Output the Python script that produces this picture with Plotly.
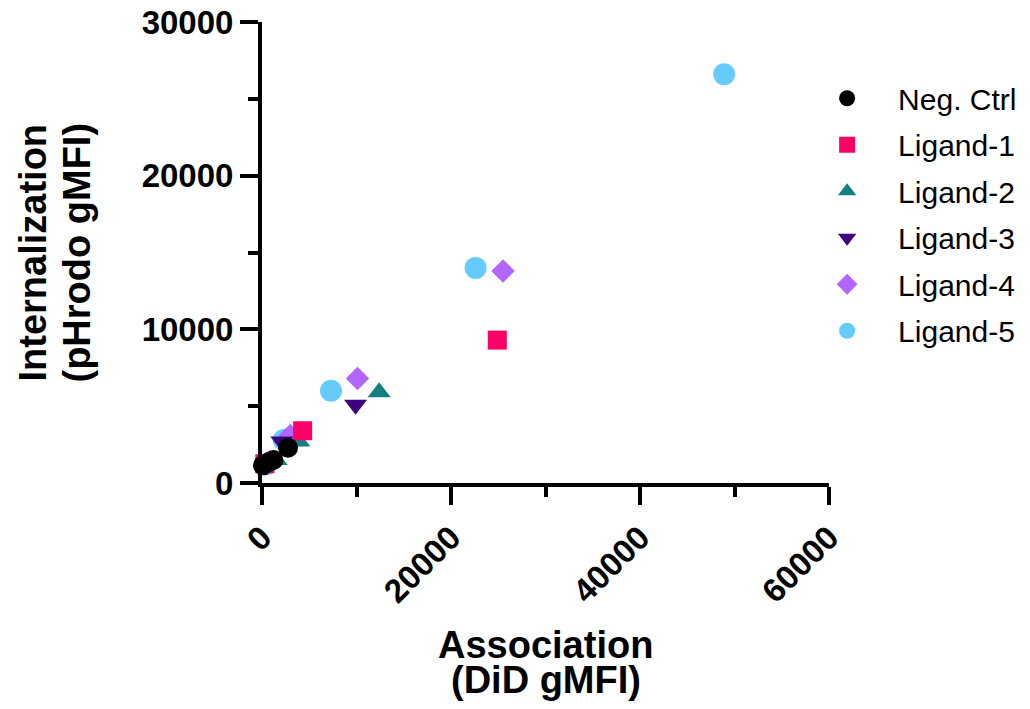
import plotly.graph_objects as go

series_names = ["Neg. Ctrl", "Ligand-1", "Ligand-2", "Ligand-3", "Ligand-4", "Ligand-5"]
neg_x = [100, 700, 1200, 2750]
neg_y = [1150, 1350, 1500, 2300]
l1_x = [300, 4300, 24900]
l1_y = [1250, 3400, 9300]
l2_x = [1500, 3900, 12400]
l2_y = [1500, 2700, 5900]
l3_x = [600, 2100, 9900]
l3_y = [1300, 2700, 5100]
l4_x = [500, 3000, 10100, 25500]
l4_y = [1300, 3100, 6800, 13800]
l5_x = [400, 2300, 7300, 22600, 48900]
l5_y = [1200, 2800, 6000, 14000, 26600]

x_title_lines = ["Association", "(DiD gMFI)"]
y_title_lines = ["Internalization", "(pHrodo gMFI)"]

xs = [neg_x, l1_x, l2_x, l3_x, l4_x, l5_x]
ys = [neg_y, l1_y, l2_y, l3_y, l4_y, l5_y]
colors = ["#000000", "#FF0066", "#147F7F", "#3F0080", "#B266FF", "#66CCFF"]
symbols = ["circle", "square", "triangle-up", "triangle-down", "diamond", "circle"]
sizes = [20, 19, 20, 20, 18, 22]

fig = go.Figure()
for i in reversed(range(6)):
    fig.add_trace(go.Scatter(
        x=xs[i], y=ys[i], mode="markers", name=series_names[i],
        legendgroup=f"g{i}", legendrank=i + 1,
        marker=dict(color=colors[i], symbol=symbols[i], size=sizes[i], line=dict(width=0)),
        cliponaxis=False,
    ))

font_family = "Liberation Sans, Arial, sans-serif"
title_font = dict(family=font_family, size=38, color="black", weight="bold")
axis_common = dict(
    showline=True, linewidth=4, linecolor="black",
    ticks="outside", ticklen=18, tickwidth=4, tickcolor="black",
    showgrid=False, zeroline=False, automargin=False,
    ticklabeloverflow="allow",
    tickfont=dict(family=font_family, size=33, color="black", weight="bold"),
)

annotations = [
    dict(text=x_title_lines[0], xref="paper", yref="paper", x=0.5, y=0, xanchor="center", yanchor="middle",
         yshift=-162, showarrow=False, font=title_font),
    dict(text=x_title_lines[1], xref="paper", yref="paper", x=0.5, y=0, xanchor="center", yanchor="middle",
         yshift=-197, showarrow=False, font=title_font),
    dict(text=y_title_lines[0], xref="paper", yref="paper", x=0, y=0.5, xanchor="center", yanchor="middle",
         xshift=-230, textangle=-90, showarrow=False, font=title_font),
    dict(text=y_title_lines[1], xref="paper", yref="paper", x=0, y=0.5, xanchor="center", yanchor="middle",
         xshift=-186, textangle=-90, showarrow=False, font=title_font),
]

fig.update_layout(
    width=1030, height=709,
    margin=dict(l=254, r=209, t=14, b=234, autoexpand=False),
    paper_bgcolor="white", plot_bgcolor="white",
    showlegend=True,
    annotations=annotations,
    legend=dict(
        traceorder="grouped", tracegroupgap=4.5,
        x=0.942, y=0.891, xanchor="left", yanchor="top",
        font=dict(family=font_family, size=30, color="black"),
        itemsizing="trace", itemwidth=92,
    ),
    xaxis=dict(
        range=[0, 60000], tickvals=[0, 20000, 40000, 60000],
        ticktext=["0", "20000", "40000", "60000"], tickangle=-45,
        minor=dict(tickvals=[10000, 30000, 50000], ticklen=10, tickwidth=4, tickcolor="black", ticks="outside"),
        **axis_common,
    ),
    yaxis=dict(
        range=[0, 30003], tickvals=[0, 10000, 20000, 30000],
        ticktext=["0", "10000", "20000", "30000"],
        minor=dict(tickvals=[5000, 15000, 25000], ticklen=10, tickwidth=4, tickcolor="black", ticks="outside"),
        **axis_common,
    ),
)

fig.write_html("out.html")
